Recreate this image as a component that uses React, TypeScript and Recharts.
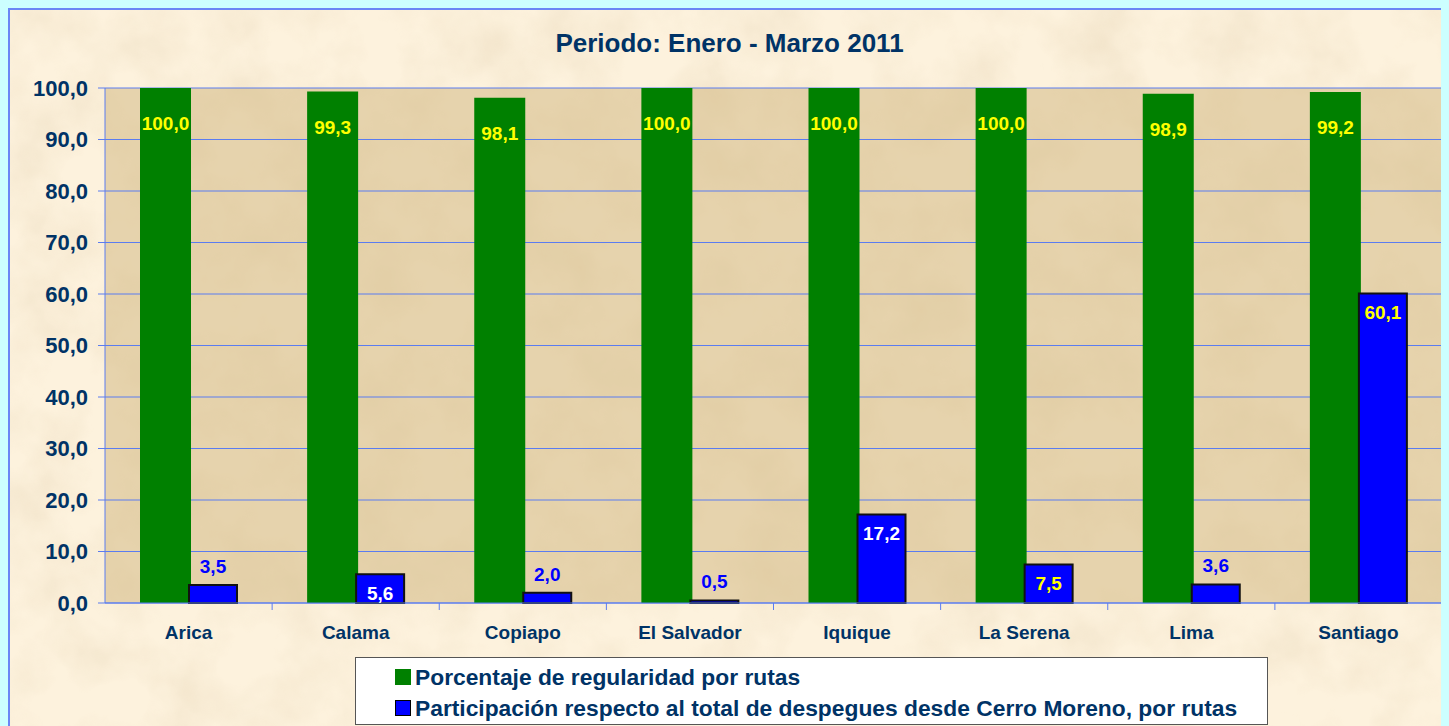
import React from "react";
import {
  Bar,
  BarChart,
  CartesianGrid,
  LabelList,
  Legend,
  XAxis,
  YAxis,
} from "recharts";

const routes = [
  "Arica",
  "Calama",
  "Copiapo",
  "El Salvador",
  "Iquique",
  "La Serena",
  "Lima",
  "Santiago",
];
const regularidad = [100.0, 99.3, 98.1, 100.0, 100.0, 100.0, 98.9, 99.2];
const participacion = [3.5, 5.6, 2.0, 0.5, 17.2, 7.5, 3.6, 60.1];
const yTicks = [0, 10, 20, 30, 40, 50, 60, 70, 80, 90, 100];

const seriesNames = [
  "Porcentaje de regularidad por rutas",
  "Participación respecto al total de despegues desde Cerro Moreno, por rutas",
];

// label look for the blue series, per route
const blueLabelColor = ["#0000ff", "#ffffff", "#0000ff", "#0000ff", "#ffffff", "#ffff00", "#0000ff", "#ffff00"];
const blueLabelInside = [false, true, false, false, true, true, false, true];

const data = routes.map((name, i) => ({
  name,
  regularidad: regularidad[i],
  participacion: participacion[i],
}));

const FONT = "'Liberation Sans', Arial, sans-serif";
const NAVY = "#003366";
const AXIS_BLUE = "#5b7cf0";

const W = 1439;
const H = 716;
const MARGIN = { top: 78, right: 7, bottom: 83, left: 25 };
const Y_W = 70;
const BAND = (W - MARGIN.left - Y_W - MARGIN.right) / routes.length;

const fmt = (v: number) => v.toFixed(1).replace(".", ",");

const CategoryTick = (props: any) => {
  const { x, y, payload } = props;
  return (
    <g>
      <line x1={x + BAND / 2} x2={x + BAND / 2} y1={y} y2={y + 7} stroke={AXIS_BLUE} strokeWidth={1} />
      <text
        x={x}
        y={y + 36}
        textAnchor="middle"
        fill={NAVY}
        fontFamily={FONT}
        fontWeight="bold"
        fontSize={19}
      >
        {payload.value}
      </text>
    </g>
  );
};

const GreenLabel = (props: any) => {
  const { x, y, width, value } = props;
  return (
    <text
      x={x + width / 2}
      y={y + 42}
      textAnchor="middle"
      fill="#ffff00"
      fontFamily={FONT}
      fontWeight="bold"
      fontSize={19}
    >
      {fmt(value)}
    </text>
  );
};

const BlueLabel = (props: any) => {
  const { x, y, width, value, index } = props;
  const inside = blueLabelInside[index];
  return (
    <text
      x={x + width / 2}
      y={inside ? y + 26 : y - 12}
      textAnchor="middle"
      fill={blueLabelColor[index]}
      fontFamily={FONT}
      fontWeight="bold"
      fontSize={19}
    >
      {fmt(value)}
    </text>
  );
};

const LegendBox = () => (
  <div
    style={{
      boxSizing: "border-box",
      width: 913,
      height: 68,
      background: "#ffffff",
      border: "1px solid #555",
      padding: "4px 0 0 39px",
      fontFamily: FONT,
      fontWeight: "bold",
      fontSize: 22.8,
      color: NAVY,
      textAlign: "left",
      lineHeight: 1,
    }}
  >
    {seriesNames.map((n, i) => (
      <div key={n} style={{ display: "flex", alignItems: "center", height: 30, marginTop: i ? 1 : 0 }}>
        <span
          style={{
            display: "inline-block",
            boxSizing: "border-box",
            width: 16,
            height: 16,
            marginRight: 4,
            background: i === 0 ? "#008000" : "#0000ff",
            border: i === 0 ? "none" : "1.5px solid #000",
          }}
        />
        {n}
      </div>
    ))}
  </div>
);

const Paper = () => (
  <svg width={W} height={H} style={{ position: "absolute", left: 0, top: 0 }}>
    <filter id="paper">
      <feTurbulence type="fractalNoise" baseFrequency="0.015" numOctaves={4} seed={7} />
      <feColorMatrix
        type="matrix"
        values="0 0 0 0 0.72  0 0 0 0 0.58  0 0 0 0 0.38  1.1 0 0 0 -0.42"
      />
    </filter>
    <rect width={W} height={H} fill="#fdf2dd" />
    <rect width={W} height={H} filter="url(#paper)" opacity={0.5} />
  </svg>
);

export default function App() {
  return (
    <div
      style={{
        position: "relative",
        width: W,
        height: H,
        borderTop: "2px solid #6a86f5",
        borderLeft: "2px solid #6a86f5",
        background: "#fcf0d9",
      }}
    >
      <style>{`body{background:#ccffff;overflow:hidden}`}</style>
      <Paper />
      <div
        style={{
          position: "absolute",
          left: 0,
          width: "100%",
          top: 18,
          textAlign: "center",
          fontFamily: FONT,
          fontWeight: "bold",
          fontSize: 26,
          color: NAVY,
        }}
      >
        Periodo: Enero - Marzo 2011
      </div>
      <BarChart
        width={W}
        height={H}
        data={data}
        margin={MARGIN}
        barGap={-2}
        style={{ position: "absolute", left: 0, top: 0 }}
      >
        <CartesianGrid
          vertical={false}
          stroke={AXIS_BLUE}
          fill="#d4b985"
          fillOpacity={0.55}
        />
        <XAxis
          dataKey="name"
          interval={0}
          stroke={AXIS_BLUE}
          tickLine={false}
          tickSize={0}
          tickMargin={0}
          tick={<CategoryTick />}
          height={40}
        />
        <XAxis xAxisId="top" orientation="top" dataKey="name" tick={false} tickLine={false} stroke="#808080" height={0} />
        <YAxis
          domain={[0, 100]}
          ticks={yTicks}
          interval={0}
          width={Y_W}
          stroke={AXIS_BLUE}
          tickSize={7}
          tickMargin={10}
          tickFormatter={fmt}
          tick={{ fill: NAVY, fontFamily: FONT, fontWeight: "bold", fontSize: 22 }}
        />
        <YAxis yAxisId="right" orientation="right" domain={[0, 100]} tick={false} tickLine={false} stroke="#808080" width={0} />
        <Legend
          layout="vertical"
          align="center"
          verticalAlign="middle"
          wrapperStyle={{ left: 345, top: 647, width: 913, height: 68, bottom: "auto" }}
          content={<LegendBox />}
        />
        <Bar dataKey="regularidad" fill="#008000" barSize={51} isAnimationActive={false}>
          <LabelList dataKey="regularidad" content={<GreenLabel />} />
        </Bar>
        <Bar dataKey="participacion" fill="#0000ff" stroke="#111" strokeWidth={2} barSize={48} isAnimationActive={false}>
          <LabelList dataKey="participacion" content={<BlueLabel />} />
        </Bar>
      </BarChart>
    </div>
  );
}
